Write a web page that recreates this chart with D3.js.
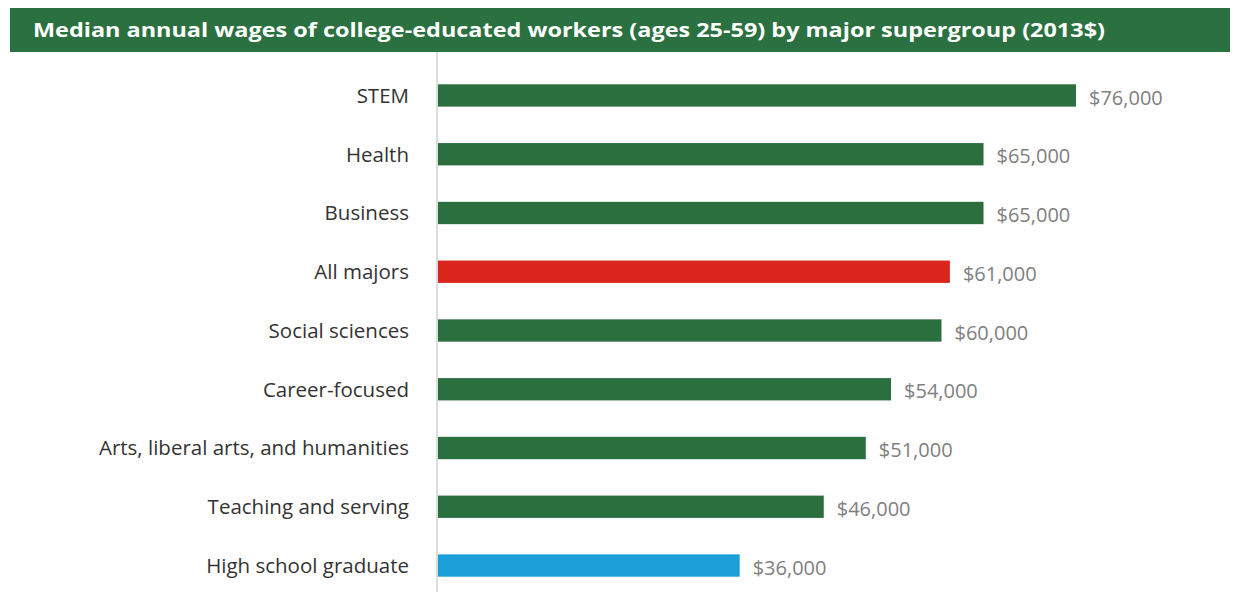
<!DOCTYPE html>
<html>
<head>
<meta charset="utf-8">
<script src="https://cdn.jsdelivr.net/npm/d3@7"></script>
<style>
  body { margin: 0; background: #fff; }
  svg { display: block; }
</style>
</head>
<body>
<svg id="chart"></svg>
<script>
var categories = ['STEM', 'Health', 'Business', 'All majors', 'Social sciences',
                  'Career-focused', 'Arts, liberal arts, and humanities',
                  'Teaching and serving', 'High school graduate'],
    wages = [76000, 65000, 65000, 61000, 60000, 54000, 51000, 46000, 36000],
    kinds = ['major', 'major', 'major', 'all', 'major', 'major', 'major', 'major', 'hs'],
    title = 'Median annual wages of college-educated workers (ages 25-59) by major supergroup (2013$)';

var data = categories.map(function(c, i) {
  return {name: c, value: wages[i], kind: kinds[i]};
});

var width = 1238, height = 592,
    x0 = 437,
    colors = {major: '#2b6f3f', all: '#d9251b', hs: '#1a9fd9'};

var xScale = d3.scaleLinear()
      .domain([0, 76000])
      .range([x0, 1076]),
    yScale = d3.scaleBand()
      .domain(categories)
      .range([66.1, 594.9])
      .paddingInner(0.62)
      .paddingOuter(0.31);

var svg = d3.select('#chart')
    .attr('width', width)
    .attr('height', height);

// title banner
svg.append('rect')
    .attr('x', 10)
    .attr('y', 8)
    .attr('width', 1220)
    .attr('height', 44)
    .attr('fill', '#2b7040');

svg.append('text')
    .attr('x', 33)
    .attr('y', 37)
    .attr('fill', '#fff')
    .attr('font-family', 'Open Sans, sans-serif')
    .attr('font-weight', 'bold')
    .attr('font-size', 20)
    .attr('textLength', 1072)
    .attr('lengthAdjust', 'spacingAndGlyphs')
    .text(title);

// baseline
svg.append('line')
    .attr('x1', x0)
    .attr('x2', x0)
    .attr('y1', 52)
    .attr('y2', height)
    .attr('stroke', '#dcdcdc')
    .attr('stroke-width', 2);

var rows = svg.selectAll('.row')
    .data(data).enter()
    .append('g')
      .attr('class', 'row');

rows.append('rect')
    .attr('x', function(d) { return xScale(0) + 1; })
    .attr('y', function(d) { return yScale(d.name); })
    .attr('width', function(d) { return xScale(d.value) - xScale(0) - 1; })
    .attr('height', yScale.bandwidth())
    .attr('fill', function(d) { return colors[d.kind]; });

rows.append('text')
    .attr('x', 409)
    .attr('y', function(d) { return yScale(d.name) + yScale.bandwidth() / 2; })
    .attr('dy', '0.36em')
    .attr('text-anchor', 'end')
    .attr('font-family', 'Open Sans, sans-serif')
    .attr('font-size', 20.5)
    .attr('fill', '#333')
    .text(function(d) { return d.name; });

rows.append('text')
    .attr('x', function(d) { return xScale(d.value) + 13; })
    .attr('y', function(d) { return yScale(d.name) + yScale.bandwidth() / 2 + 2; })
    .attr('dy', '0.36em')
    .attr('font-family', 'Open Sans, sans-serif')
    .attr('font-size', 20)
    .attr('fill', '#808080')
    .text(function(d) { return d3.format('$,')(d.value); });
</script>
</body>
</html>
